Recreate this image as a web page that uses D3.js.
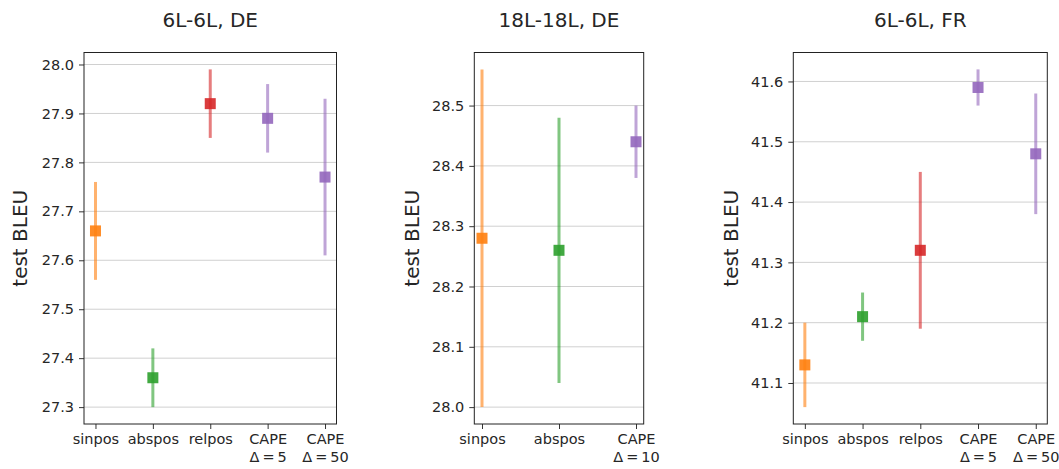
<!DOCTYPE html>
<html>
<head>
<meta charset="utf-8">
<script src="https://cdn.jsdelivr.net/npm/d3@7"></script>
<style>
  body { margin: 0; background: #fff; }
  svg { font-family: "DejaVu Sans", sans-serif; }
</style>
</head>
<body>
<div id="chart"></div>
<script>
// data
var titles = ["6L-6L, DE", "18L-18L, DE", "6L-6L, FR"]

var deCats = ["sinpos", "abspos", "relpos", "CAPE|Δ\u2009=\u20095", "CAPE|Δ\u2009=\u200950"]
var deMean = [27.66, 27.36, 27.92, 27.89, 27.77]
var deLow = [27.56, 27.30, 27.85, 27.82, 27.61]
var deHigh = [27.76, 27.42, 27.99, 27.96, 27.93]
var deTicks = [27.3, 27.4, 27.5, 27.6, 27.7, 27.8, 27.9, 28.0]

var de18Cats = ["sinpos", "abspos", "CAPE|Δ\u2009=\u200910"]
var de18Mean = [28.28, 28.26, 28.44]
var de18Low = [28.00, 28.04, 28.38]
var de18High = [28.56, 28.48, 28.50]
var de18Ticks = [28.0, 28.1, 28.2, 28.3, 28.4, 28.5]

var frCats = ["sinpos", "abspos", "relpos", "CAPE|Δ\u2009=\u20095", "CAPE|Δ\u2009=\u200950"]
var frMean = [41.13, 41.21, 41.32, 41.59, 41.48]
var frLow = [41.06, 41.17, 41.19, 41.56, 41.38]
var frHigh = [41.20, 41.25, 41.45, 41.62, 41.58]
var frTicks = [41.1, 41.2, 41.3, 41.4, 41.5, 41.6]

var colors5 = ["#ff7f0e", "#2ca02c", "#d62728", "#9467bd", "#9467bd"]
var colors3 = ["#ff7f0e", "#2ca02c", "#9467bd"]

var W = 1059, H = 469
var plotTop = 52.5, plotBottom = 424

var panels = [
    { title: titles[0], cats: deCats, mean: deMean, low: deLow, high: deHigh, ticks: deTicks, colors: colors5, left: 84, right: 336.5, ylabX: 20 },
    { title: titles[1], cats: de18Cats, mean: de18Mean, low: de18Low, high: de18High, ticks: de18Ticks, colors: colors3, left: 474.3, right: 643.7, ylabX: 412 },
    { title: titles[2], cats: frCats, mean: frMean, low: frLow, high: frHigh, ticks: frTicks, colors: colors5, left: 793.3, right: 1047.3, ylabX: 731 }
]

var svg = d3.select("#chart")
    .append("svg")
    .attr("width", W)
    .attr("height", H)

panels.forEach(function (p) {
    var n = p.cats.length
    var x = d3.scaleLinear()
        .domain([-0.05 * (n - 1), (n - 1) * 1.05])
        .range([p.left, p.right])

    var lo = d3.min(p.low), hi = d3.max(p.high)
    var pad = (hi - lo) * 0.05
    var y = d3.scaleLinear()
        .domain([lo - pad, hi + pad])
        .range([plotBottom, plotTop])

    var g = svg.append("g")

    // grid
    g.append("g")
        .selectAll("line")
        .data(p.ticks)
        .enter().append("line")
        .attr("x1", p.left).attr("x2", p.right)
        .attr("y1", function (d) { return y(d) })
        .attr("y2", function (d) { return y(d) })
        .attr("stroke", "#d0d0d0")
        .attr("stroke-width", 1)

    // y axis
    var yAxis = g.append("g")
        .attr("transform", "translate(" + p.left + ",0)")
        .call(d3.axisLeft(y).tickValues(p.ticks).tickFormat(d3.format(".1f")).tickSize(5).tickPadding(5).tickSizeOuter(0))
    yAxis.select(".domain").remove()
    yAxis.selectAll("text").attr("font-size", 14.5).attr("fill", "#262626").attr("font-family", "DejaVu Sans")
    yAxis.selectAll("line").attr("stroke", "#333")

    // x axis
    var xAxis = g.append("g")
        .attr("transform", "translate(0," + plotBottom + ")")
        .call(d3.axisBottom(x).tickValues(d3.range(n)).tickFormat("").tickSize(5).tickSizeOuter(0))
    xAxis.select(".domain").remove()
    xAxis.selectAll("line").attr("stroke", "#333")
    xAxis.selectAll(".tick").each(function (d) {
        var lines = p.cats[d].split("|")
        var t = d3.select(this).append("text")
            .attr("fill", "#262626")
            .attr("font-size", 14.5)
            .attr("font-family", "DejaVu Sans")
            .attr("text-anchor", "middle")
        lines.forEach(function (s, i) {
            t.append("tspan").attr("x", 0).attr("y", 20 + i * 18).text(s)
        })
    })

    // frame
    g.append("rect")
        .attr("x", p.left).attr("y", plotTop)
        .attr("width", p.right - p.left).attr("height", plotBottom - plotTop)
        .attr("fill", "none")
        .attr("stroke", "#222")
        .attr("stroke-width", 1)

    // error bars
    g.append("g")
        .selectAll("line")
        .data(p.mean)
        .enter().append("line")
        .attr("x1", function (d, i) { return x(i) })
        .attr("x2", function (d, i) { return x(i) })
        .attr("y1", function (d, i) { return y(p.low[i]) })
        .attr("y2", function (d, i) { return y(p.high[i]) })
        .attr("stroke", function (d, i) { return p.colors[i] })
        .attr("stroke-width", 3)
        .attr("stroke-opacity", 0.6)

    // markers
    var ms = 11
    g.append("g")
        .selectAll("rect")
        .data(p.mean)
        .enter().append("rect")
        .attr("x", function (d, i) { return x(i) - ms / 2 })
        .attr("y", function (d) { return y(d) - ms / 2 })
        .attr("width", ms).attr("height", ms)
        .attr("fill", function (d, i) { return p.colors[i] })
        .attr("fill-opacity", 0.9)

    // title
    g.append("text")
        .attr("x", (p.left + p.right) / 2)
        .attr("y", 27)
        .attr("text-anchor", "middle")
        .attr("font-size", 20)
        .attr("fill", "#262626")
        .text(p.title)

    // y label
    g.append("text")
        .attr("transform", "translate(" + p.ylabX + "," + ((plotTop + plotBottom) / 2) + ") rotate(-90)")
        .attr("text-anchor", "middle")
        .attr("dy", "0.35em")
        .attr("font-size", 20)
        .attr("fill", "#262626")
        .text("test BLEU")
})
</script>
</body>
</html>
